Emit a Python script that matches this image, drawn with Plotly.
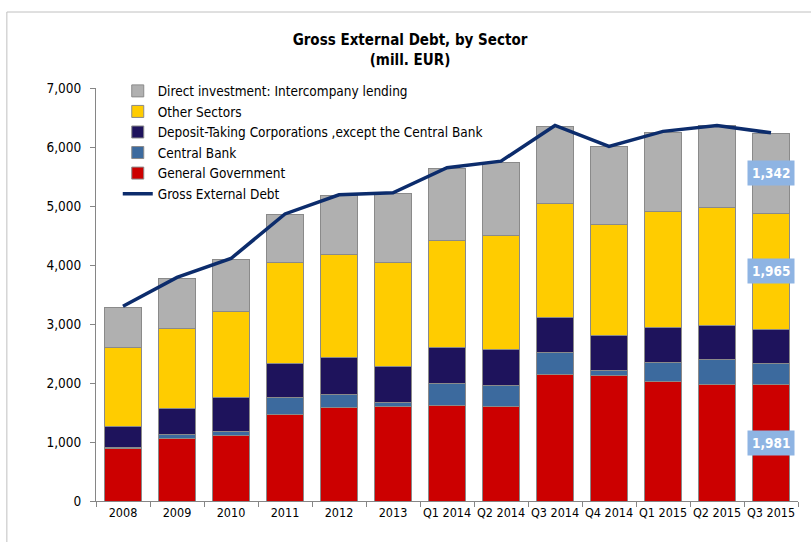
import plotly.graph_objects as go

# Gross external debt by sector, million EUR
periods = ["2008", "2009", "2010", "2011", "2012", "2013",
           "Q1 2014", "Q2 2014", "Q3 2014", "Q4 2014",
           "Q1 2015", "Q2 2015", "Q3 2015"]

general_government = [898, 1051, 1107, 1458, 1582, 1610, 1618, 1599, 2147, 2124, 2022, 1983, 1981]
central_bank = [10, 68, 68, 300, 226, 63, 377, 367, 373, 80, 329, 407, 353]
deposit_taking = [363, 452, 571, 576, 621, 604, 604, 610, 582, 598, 598, 593, 581]
other_sectors = [1339, 1356, 1474, 1706, 1741, 1769, 1808, 1921, 1944, 1893, 1966, 1995, 1965]
direct_investment = [678, 836, 865, 808, 1005, 1169, 1226, 1244, 1310, 1310, 1334, 1383, 1342]
gross_external_debt = [3300, 3790, 4110, 4865, 5190, 5225, 5650, 5760, 6365, 6010, 6265, 6365, 6240]

y_ticks = [0, 1000, 2000, 3000, 4000, 5000, 6000, 7000]

FONT = "DejaVu Sans Condensed"

sectors = [
    ("General Government", general_government, "#cc0000", 5),
    ("Central Bank", central_bank, "#3c6a9e", 4),
    ("Deposit-Taking Corporations ,except the Central Bank", deposit_taking, "#1e135c", 3),
    ("Other Sectors", other_sectors, "#ffcc00", 2),
    ("Direct investment: Intercompany lending", direct_investment, "#b0b0b0", 1),
]

fig = go.Figure()
for name, values, color, rank in sectors:
    fig.add_trace(go.Bar(
        x=periods, y=values, name=name, legendrank=rank,
        marker=dict(color=color, line=dict(color="#8a8a8a", width=1)),
    ))

fig.add_trace(go.Scatter(
    x=periods, y=gross_external_debt, name="Gross External Debt",
    mode="lines", legendrank=6,
    line=dict(color="#0c2c6c", width=3.5),
))

# value boxes on the latest period, centred in their segments
last = len(periods) - 1
gg_last = general_government[last]
below_os = gg_last + central_bank[last] + deposit_taking[last]
below_di = below_os + other_sectors[last]
for value, base in [(gg_last, 0), (other_sectors[last], below_os), (direct_investment[last], below_di)]:
    fig.add_annotation(
        x=periods[last], y=base + value / 2, text=f"<b>{value:,}</b>",
        showarrow=False, bgcolor="#8eb4e3", borderpad=4,
        font=dict(family=FONT, size=13.5, color="white"),
    )

# chart-area frame (top and left edges)
frame = dict(color="#c0c0c0", width=1)
fig.add_shape(type="line", xref="paper", yref="paper", x0=-0.127, x1=1.03, y0=1.184, y1=1.184, line=frame)
fig.add_shape(type="line", xref="paper", yref="paper", x0=-0.127, x1=-0.127, y0=1.184, y1=-0.12, line=frame)

fig.update_layout(
    width=811, height=542,
    margin=dict(l=96, r=13, t=88, b=41),
    paper_bgcolor="white", plot_bgcolor="white",
    barmode="stack", bargap=0.3,
    font=dict(family=FONT, size=12, color="black"),
    title=dict(
        text="<b>Gross External Debt, by Sector</b><br><b>(mill. EUR)</b>",
        x=410 / 811, xref="container", xanchor="center",
        y=1 - 45 / 542, yref="container", yanchor="top",
        font=dict(family=FONT, size=15, color="black"),
    ),
    legend=dict(
        x=0.031, y=1.03, xanchor="left", yanchor="top", traceorder="normal",
        bgcolor="rgba(0,0,0,0)", font=dict(family=FONT, size=13.5, color="black"),
        itemwidth=30, tracegroupgap=0,
    ),
    showlegend=True,
)

fig.update_xaxes(
    showline=True, linecolor="#868686", linewidth=1,
    ticks="outside", tickson="boundaries", ticklen=5, tickcolor="#868686",
    tickangle=0, showgrid=False, tickfont=dict(family=FONT, size=12.5, color="black"),
)
fig.update_yaxes(
    range=[0, 7000], tickvals=y_ticks, tickformat=",",
    showline=True, linecolor="#868686", linewidth=1,
    ticks="outside", ticklen=5, tickcolor="#868686", ticklabelstandoff=6,
    showgrid=False, zeroline=False, tickfont=dict(family=FONT, size=13.5, color="black"),
)

fig.write_html("out.html")
